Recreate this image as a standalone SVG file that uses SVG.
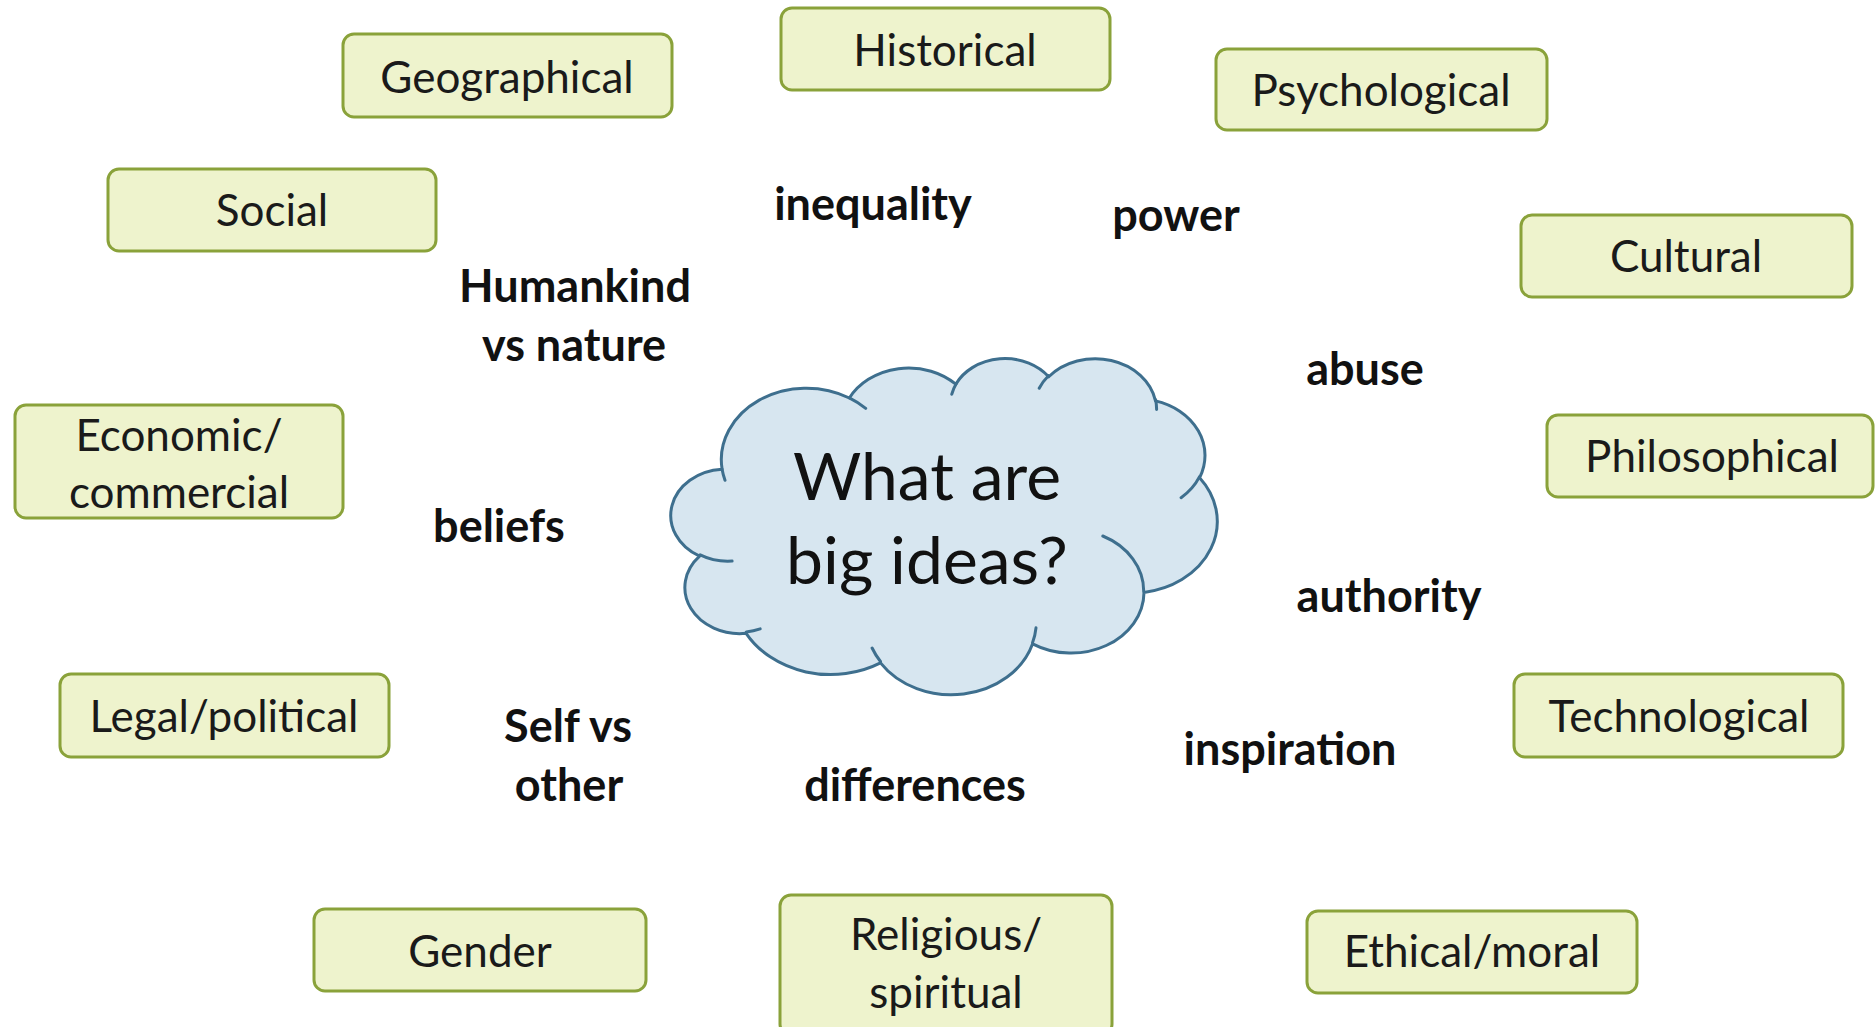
<svg xmlns="http://www.w3.org/2000/svg" width="1875" height="1027" viewBox="0 0 1875 1027">
  <style>
    .box rect { fill: #eef3cd; stroke: #8aa23a; stroke-width: 3; }
    .box text { font-family: Lato, "Open Sans", sans-serif; font-size: 44px; fill: #1a1a1a; text-anchor: middle; }
    .word { font-family: Lato, "Open Sans", sans-serif; font-weight: bold; font-size: 45px; fill: #111; text-anchor: middle; }
    .cloud { fill: #d7e6f0; stroke: #3e6f8e; stroke-width: 3; stroke-linejoin: round; }
    .hook { fill: none; stroke: #3e6f8e; stroke-width: 3; stroke-linecap: round; }
    .cloud-text { font-family: Lato, "Open Sans", sans-serif; font-size: 66px; fill: #111; text-anchor: middle; }
  </style>

  <rect width="1875" height="1027" fill="#ffffff"/>

  <!-- central cloud -->
  <g id="cloud">
    <path class="cloud" d="M722.1,469.3
      A85.04,71.48 0 0 1 849.4,398.0
      A67.16,56.52 0 0 1 955.8,384.2
      A54.97,46.24 0 0 1 1048.7,376.8
      A61.16,51.29 0 0 1 1155.5,400.9
      A67.16,56.57 0 0 1 1199.6,477.7
      A85.31,71.71 0 0 1 1144.0,592.4
      A72.85,61.19 0 0 1 1032.6,643.8
      A85.03,71.67 0 0 1 880.5,662.9
      A97.22,82.00 0 0 1 746.1,633.3
      A54.90,46.03 0 0 1 699.6,556.2
      A54.71,46.24 0 0 1 722.1,469.3 Z"/>
    <path class="hook" d="M732.1,561.1 A54.71,46.24 0 0 1 700.2,554.9
      M760.2,628.9 A54.90,46.03 0 0 1 746.3,631.9
      M880.5,661.5 A85.03,71.67 0 0 1 872.1,648.0
      M1036.0,627.8 A85.03,71.67 0 0 1 1032.6,642.6
      M1102.8,536.0 A72.85,61.19 0 0 1 1143.7,591.5
      M1199.4,476.9 A67.16,56.57 0 0 1 1181.1,497.7
      M1155.6,399.7 A61.16,51.29 0 0 1 1156.6,409.5
      M1039.2,388.2 A61.16,51.29 0 0 1 1048.5,375.7
      M951.8,394.2 A54.97,46.24 0 0 1 956.3,383.4
      M849.3,397.9 A85.04,71.48 0 0 1 865.7,408.4
      M725.0,480.3 A85.04,71.48 0 0 1 722.1,469.3"/>
    <text class="cloud-text" x="927" y="500">What are</text>
    <text class="cloud-text" x="927" y="584">big ideas?</text>
  </g>

  <!-- perspective boxes -->
  <g id="geographical" class="box"><rect x="343" y="34" width="329" height="83" rx="11"/><text x="507" y="93">Geographical</text></g>
  <g id="historical" class="box"><rect x="781" y="8" width="329" height="82" rx="11"/><text x="945" y="66">Historical</text></g>
  <g id="psychological" class="box"><rect x="1216" y="49" width="331" height="81" rx="11"/><text x="1381" y="106">Psychological</text></g>
  <g id="social" class="box"><rect x="108" y="169" width="328" height="82" rx="11"/><text x="272" y="226">Social</text></g>
  <g id="cultural" class="box"><rect x="1521" y="215" width="331" height="82" rx="11"/><text x="1686" y="272">Cultural</text></g>
  <g id="economic" class="box"><rect x="15" y="405" width="328" height="113" rx="11"/><text x="179" y="451">Economic/</text><text x="179" y="508">commercial</text></g>
  <g id="philosophical" class="box"><rect x="1547" y="415" width="326" height="82" rx="11"/><text x="1712" y="472">Philosophical</text></g>
  <g id="legal" class="box"><rect x="60" y="674" width="329" height="83" rx="11"/><text x="224" y="732">Legal/political</text></g>
  <g id="technological" class="box"><rect x="1514" y="674" width="329" height="83" rx="11"/><text x="1679" y="732">Technological</text></g>
  <g id="gender" class="box"><rect x="314" y="909" width="332" height="82" rx="11"/><text x="480" y="967">Gender</text></g>
  <g id="religious" class="box"><rect x="780" y="895" width="332" height="140" rx="11"/><text x="946" y="950">Religious/</text><text x="946" y="1008">spiritual</text></g>
  <g id="ethical" class="box"><rect x="1307" y="911" width="330" height="82" rx="11"/><text x="1472" y="967">Ethical/moral</text></g>

  <!-- theme words -->
  <g id="words">
    <text class="word" x="873" y="220">inequality</text>
    <text class="word" x="1176" y="231">power</text>
    <text class="word" x="575" y="302">Humankind</text>
    <text class="word" x="574" y="361">vs nature</text>
    <text class="word" x="1365" y="385">abuse</text>
    <text class="word" x="499" y="542">beliefs</text>
    <text class="word" x="1389" y="612">authority</text>
    <text class="word" x="568" y="742">Self vs</text>
    <text class="word" x="569" y="801">other</text>
    <text class="word" x="915" y="801">differences</text>
    <text class="word" x="1290" y="765">inspiration</text>
  </g>

  <!-- no connectors in this diagram -->
  <g id="connectors"/>
</svg>
